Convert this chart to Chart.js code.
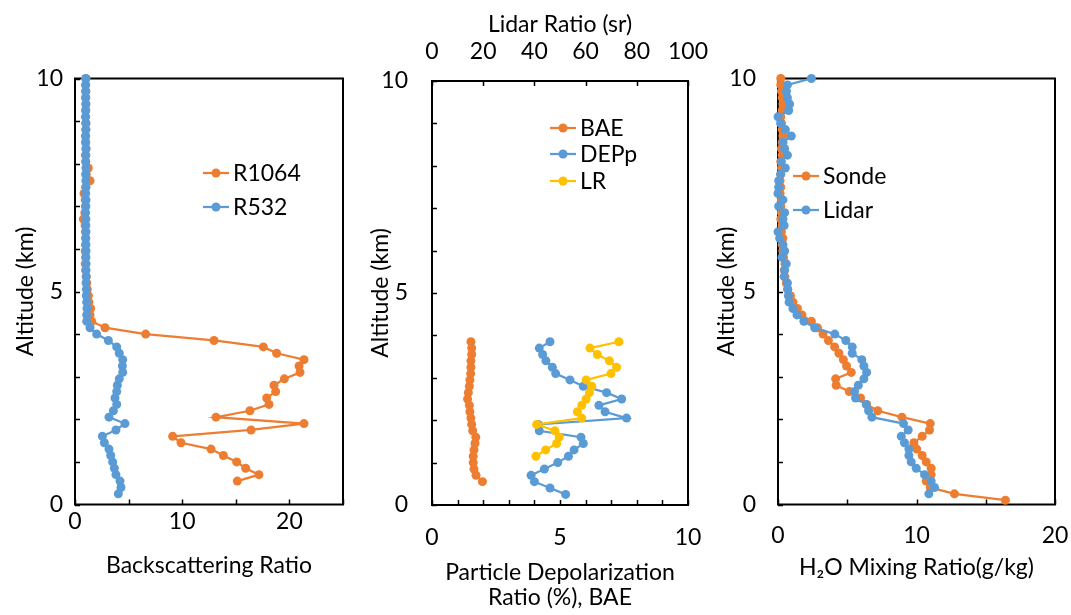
<!DOCTYPE html>
<html>
<head>
<meta charset="utf-8">
<script src="https://cdn.jsdelivr.net/npm/chart.js@4.4.1/dist/chart.umd.min.js"></script>
<style>
  html, body { margin: 0; padding: 0; background: #fff; }
  #wrap { position: relative; width: 1071px; height: 615px; overflow: hidden; background: #fff; }
  #wrap canvas { position: absolute; top: 0; }
</style>
</head>
<body>
<div id="wrap">
  <canvas id="c1" width="357" height="615" style="left:0"></canvas>
  <canvas id="c2" width="357" height="615" style="left:357px"></canvas>
  <canvas id="c3" width="371" height="615" style="left:700px"></canvas>
</div>
<script>
// altitude grid (km), shared by all profiles
const altKm = [
  0.10, 0.25, 0.40, 0.55, 0.70, 0.85, 1.00, 1.15, 1.30, 1.45,
  1.60, 1.75, 1.90, 2.05, 2.20, 2.35, 2.50, 2.65, 2.80, 2.95,
  3.10, 3.25, 3.40, 3.55, 3.70, 3.85, 4.00, 4.15, 4.30, 4.45,
  4.60, 4.75, 4.90, 5.05, 5.20, 5.35, 5.50, 5.65, 5.80, 5.95,
  6.10, 6.25, 6.40, 6.55, 6.70, 6.85, 7.00, 7.15, 7.30, 7.45,
  7.60, 7.75, 7.90, 8.05, 8.20, 8.35, 8.50, 8.65, 8.80, 8.95,
  9.10, 9.25, 9.40, 9.55, 9.70, 9.85, 10.00
];

// panel 1: backscattering ratio
const r1064 = [
  null, null, null, 15.14, 17.16, 15.92, 15.08, 13.84, 12.69, 9.89,
  9.11, 16.42, 21.36, 13.15, 16.32, 18.10, 17.88, 18.72, 18.56, 19.53,
  20.99, 20.90, 21.36, 18.81, 17.57, 12.97, 6.59, 2.80, 1.56, 1.40,
  1.46, 1.30, 1.25, 1.15, 1.10, 1.05, 1.00, 0.95, 1.00, 0.95,
  0.98, 1.00, 0.97, 0.95, 0.78, 0.92, 0.97, 0.95, 0.84, 1.00,
  1.40, 1.05, 1.24, 1.00, 0.98, 1.02, 1.00, 0.98, 1.00, 1.02,
  0.99, 1.00, 1.01, 0.98, 1.00, 1.00, 1.00
];
const r532 = [
  null, 4.04, 4.29, 4.20, 3.82, 3.67, 3.51, 3.33, 3.17, 2.74,
  2.55, 3.82, 4.66, 3.17, 3.58, 3.89, 3.73, 3.89, 3.95, 4.13,
  4.45, 4.42, 4.45, 4.13, 3.89, 3.11, 2.02, 1.40, 1.09, 1.09,
  1.12, 1.09, 1.05, 1.06, 1.03, 1.05, 1.02, 1.04, 1.01, 1.03,
  1.02, 1.00, 1.03, 1.01, 1.02, 0.99, 1.01, 1.03, 1.00, 1.02,
  1.01, 0.99, 1.02, 1.00, 1.01, 1.03, 0.99, 1.00, 1.02, 1.01,
  0.99, 1.00, 1.02, 1.01, 1.00, 0.99, 1.02
];

// panel 2: BAE, particle depolarization (%), lidar ratio (sr)
const bae = [
  null, null, null, 1.97, 1.72, 1.64, 1.61, 1.61, 1.64, 1.68,
  1.71, 1.59, 1.55, 1.52, 1.48, 1.46, 1.39, 1.42, 1.46, 1.48,
  1.51, 1.52, 1.52, 1.55, 1.55, 1.52
];
const depp = [
  null, 5.22, 4.61, 4.00, 3.87, 4.39, 4.91, 5.33, 5.55, 5.91,
  5.82, 4.19, 4.15, 7.60, 6.76, 6.52, 7.41, 6.82, 5.91, 5.39,
  4.83, 4.70, 4.45, 4.32, 4.19, 4.61
];
const lidarRatio = [
  null, null, null, null, null, null, null, 40.6, 44.4, 48.7,
  49.7, 48.0, 40.9, 58.5, 56.8, 58.5, 60.2, 61.5, 62.4, 60.2,
  69.9, 72.1, 69.3, 64.6, 61.7, 73.0
];

// panel 3: water vapour mixing ratio (g/kg)
const sonde = [
  16.42, 12.74, 11.00, 10.70, 11.06, 11.06, 10.70, 10.41, 10.02, 9.81,
  10.41, 10.94, 10.99, 8.95, 7.20, 6.40, 5.96, 5.15, 4.20, 4.16,
  5.29, 4.95, 4.72, 4.40, 4.09, 3.64, 3.25, 2.85, 2.41, 1.73,
  1.40, 1.08, 0.90, 0.70, 0.60, 0.50, 0.45, 0.50, 0.40, 0.35,
  0.30, 0.35, 0.25, 0.30, 0.20, 0.25, 0.20, 0.25, 0.15, 0.20,
  0.15, 0.20, 0.25, 0.20, 0.30, 0.25, 0.30, 0.35, 0.30, 0.25,
  0.20, 0.30, 0.35, 0.30, 0.25, 0.20, 0.20
];
const lidarH2O = [
  null, 10.89, 11.30, 11.06, 10.58, 9.98, 9.62, 9.45, 9.45, 9.13,
  8.90, 9.40, 9.06, 6.78, 6.54, 6.37, 5.60, 5.53, 5.80, 6.20,
  6.40, 6.20, 6.05, 5.36, 5.36, 4.90, 4.10, 2.65, 1.87, 1.37,
  1.08, 0.80, 0.75, 0.70, 0.68, 0.44, 0.48, 0.60, 0.29, 0.48,
  0.36, 0.12, 0.00, 0.44, 0.36, 0.48, 0.05, 0.36, 0.00, 0.05,
  0.05, 0.19, 0.53, 0.24, 0.68, 0.48, 0.36, 0.96, 0.53, 0.19,
  0.00, 0.77, 0.84, 0.68, 0.61, 0.68, 2.41
];

const ORANGE = '#ED7D31';
const BLUE = '#5B9BD5';
const YELLOW = '#FFC000';
const FAMILY = "Lato, 'Noto Sans', 'DejaVu Sans', sans-serif";
const FONT = { family: FAMILY, size: 23 };

function pts(vals) {
  const out = [];
  vals.forEach((v, i) => {
    if (v !== null && v !== undefined) out.push({ x: v, y: altKm[i] });
  });
  return out;
}

// later series are drawn on top (like the original spreadsheet)
function series(label, vals, color, order, axis) {
  return {
    label: label,
    data: pts(vals),
    showLine: true,
    borderColor: color,
    backgroundColor: color,
    borderWidth: 2.25,
    pointRadius: 4.5,
    pointHoverRadius: 4.5,
    pointBorderWidth: 0,
    clip: false,
    order: order,
    xAxisID: axis || 'x'
  };
}

function yAxis(width, titlePad, tickPad) {
  return {
    type: 'linear', position: 'left', min: 0, max: 10,
    ticks: { stepSize: 1, autoSkip: false, padding: tickPad, color: '#000', font: FONT,
      callback: v => (v % 5 === 0 ? v : '') },
    grid: { display: false, drawTicks: false },
    border: { display: false },
    title: { display: true, text: 'Altitude (km)', color: '#000', font: FONT, padding: { top: titlePad } },
    afterFit: s => { s.width = width; s.paddingTop = 0; s.paddingBottom = 0; }
  };
}

function xAxis(opts) {
  return {
    type: 'linear', position: opts.position || 'bottom', min: 0, max: opts.max,
    ticks: { stepSize: opts.step, autoSkip: false, maxRotation: 0, padding: opts.tickPad,
      color: '#000', font: FONT,
      callback: v => (v % opts.labelEvery === 0 ? v : '') },
    grid: { display: false, drawTicks: false },
    border: { display: false },
    title: { display: true, text: opts.title, color: '#000',
      font: Object.assign({}, FONT, { lineHeight: opts.titleLH || 1.2 }),
      padding: opts.titlePad },
    // fixed box; labels may overhang the plot edges like in the original
    afterFit: s => { s.height = opts.height; s.paddingLeft = 0; s.paddingRight = 0; }
  };
}

// box, inside tick marks and in-plot legend
const framePlugin = {
  id: 'frame',
  beforeDatasetsDraw(chart) {
    const { ctx, chartArea: a } = chart;
    ctx.save();
    ctx.strokeStyle = '#000';
    ctx.lineWidth = 1.5;
    ctx.beginPath();
    Object.values(chart.scales).forEach(s => {
      s.ticks.forEach(t => {
        const p = Math.round(s.getPixelForValue(t.value)) + 0.5;
        if (s.axis === 'y') { ctx.moveTo(a.left, p); ctx.lineTo(a.left + 5, p); }
        else if (s.position === 'top') { ctx.moveTo(p, a.top); ctx.lineTo(p, a.top + 5); }
        else { ctx.moveTo(p, a.bottom); ctx.lineTo(p, a.bottom - 5); }
      });
    });
    ctx.stroke();
    ctx.lineWidth = 2;
    ctx.strokeRect(a.left, a.top, a.right - a.left, a.bottom - a.top);
    ctx.restore();
  },
  afterDraw(chart, args, opts) {
    if (!opts.items) return;
    const ctx = chart.ctx;
    ctx.save();
    ctx.font = FONT.size + 'px ' + FAMILY;
    ctx.textBaseline = 'middle';
    opts.items.forEach(it => {
      ctx.strokeStyle = it.color;
      ctx.fillStyle = it.color;
      ctx.lineWidth = 2.25;
      ctx.beginPath();
      ctx.moveTo(opts.x, it.y);
      ctx.lineTo(opts.x + 26, it.y);
      ctx.stroke();
      ctx.beginPath();
      ctx.arc(opts.x + 13, it.y, 4.5, 0, Math.PI * 2);
      ctx.fill();
      ctx.fillStyle = '#000';
      ctx.fillText(it.text, opts.x + 30, it.y + 1);
    });
    ctx.restore();
  }
};

const base = {
  responsive: false,
  animation: false,
  events: []
};

new Chart(document.getElementById('c1'), {
  type: 'scatter',
  data: { datasets: [
    series('R1064', r1064, ORANGE, 1),
    series('R532', r532, BLUE, 0)
  ] },
  options: Object.assign({}, base, {
    layout: { padding: { top: 78.5, right: 14, bottom: 0, left: 0 } },
    scales: {
      x: xAxis({ max: 25, step: 5, labelEvery: 10, tickPad: 3, title: 'Backscattering Ratio',
        titlePad: { bottom: 36 }, height: 110.5 }),
      y: yAxis(75, 12, 12)
    },
    plugins: {
      legend: { display: false }, tooltip: { enabled: false },
      frame: { x: 203, items: [
        { text: 'R1064', color: ORANGE, y: 173 },
        { text: 'R532', color: BLUE, y: 207 }
      ] }
    }
  }),
  plugins: [framePlugin]
});

new Chart(document.getElementById('c2'), {
  type: 'scatter',
  data: { datasets: [
    series('BAE', bae, ORANGE, 2),
    series('DEPp', depp, BLUE, 1),
    series('LR', lidarRatio, YELLOW, 0, 'x2')
  ] },
  options: Object.assign({}, base, {
    layout: { padding: { top: 0, right: 26, bottom: 0, left: 0 } },
    scales: {
      x: xAxis({ max: 10, step: 1, labelEvery: 5, tickPad: 19,
        title: ['Particle Depolarization', 'Ratio (%), BAE'], titleLH: 1.09,
        titlePad: { bottom: 5 }, height: 110 }),
      x2: xAxis({ position: 'top', max: 100, step: 20, labelEvery: 20, tickPad: 16,
        title: 'Lidar Ratio (sr)', titlePad: { top: 11 }, height: 81 }),
      y: yAxis(75, 10, 24)
    },
    plugins: {
      legend: { display: false }, tooltip: { enabled: false },
      frame: { x: 193, items: [
        { text: 'BAE', color: ORANGE, y: 128 },
        { text: 'DEPp', color: BLUE, y: 154 },
        { text: 'LR', color: YELLOW, y: 181 }
      ] }
    }
  }),
  plugins: [framePlugin]
});

new Chart(document.getElementById('c3'), {
  type: 'scatter',
  data: { datasets: [
    series('Sonde', sonde, ORANGE, 1),
    series('Lidar', lidarH2O, BLUE, 0)
  ] },
  options: Object.assign({}, base, {
    layout: { padding: { top: 78.5, right: 16, bottom: 0, left: 0 } },
    scales: {
      x: xAxis({ max: 20, step: 5, labelEvery: 10, tickPad: 17,
        title: 'H\u2082O Mixing Ratio(g/kg)', titlePad: { bottom: 34 }, height: 110.5 }),
      y: yAxis(78, 13, 22)
    },
    plugins: {
      legend: { display: false }, tooltip: { enabled: false },
      frame: { x: 93, items: [
        { text: 'Sonde', color: ORANGE, y: 176 },
        { text: 'Lidar', color: BLUE, y: 210 }
      ] }
    }
  }),
  plugins: [framePlugin]
});
</script>
</body>
</html>
